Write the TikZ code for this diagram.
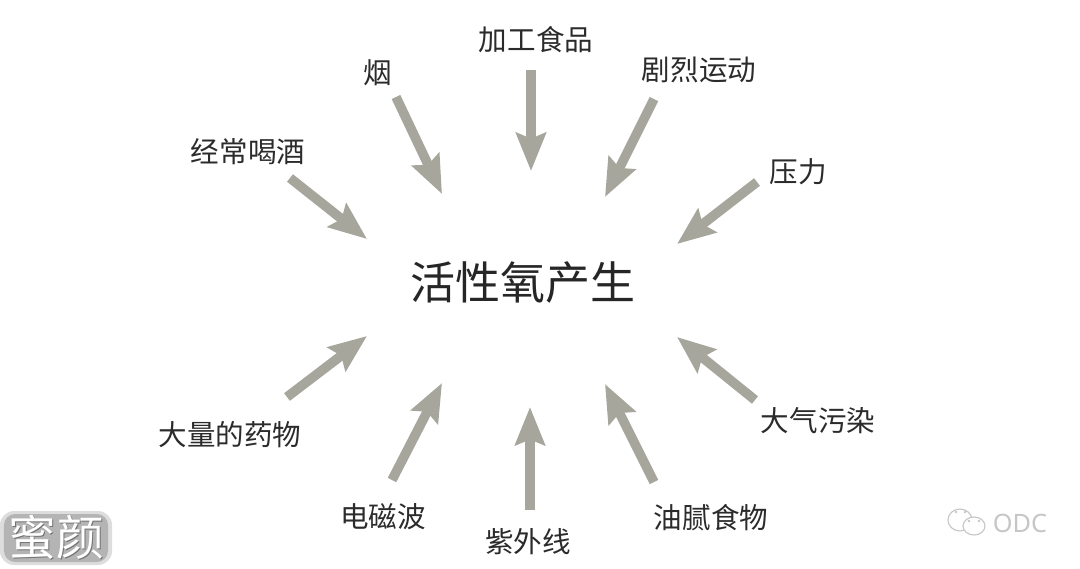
\documentclass[tikz,border=0pt]{standalone}
\usepackage{fontspec}
\setmainfont{Noto Sans CJK SC}
\newfontfamily\latinfont{Noto Sans}
\usetikzlibrary{arrows.meta}
\definecolor{jiantouhui}{HTML}{A6A69C}
\definecolor{zihei}{HTML}{2B2B2B}
\definecolor{shuiyinhui}{HTML}{B4B4B4}
\definecolor{odchui}{HTML}{C6C6C6}
\tikzstyle{yinsu} = [inner sep=0pt, text=zihei, font=\fontsize{20.3}{24}\selectfont]
\tikzstyle{zhongxin} = [inner sep=0pt, text=black!85, font=\fontsize{32}{38}\selectfont]
\tikzstyle{jiantou} = [-{Stealth[length=27pt,width=21pt,inset=4pt]}, line width=6.8pt,
    color=jiantouhui]
\tikzstyle{qipao} = [draw=odchui, line width=0.8pt]
\tikzstyle{yanjing} = [fill=odchui, draw=none]

\begin{document}
\begin{tikzpicture}[x=0.025cm,y=-0.025cm]
  \useasboundingbox (0,0) rectangle (1080,568);
  \node [zhongxin] (shengcheng) at (523,283) {活性氧产生};

  \node [yinsu] (jiagong) at (536,40) {加工食品};
  \node [yinsu] (yan) at (378,73) {烟};
  \node [yinsu] (hejiu) at (248,152) {经常喝酒};
  \node [yinsu] (yundong) at (699,70) {剧烈运动};
  \node [yinsu] (yali) at (798,172) {压力};
  \node [yinsu] (wuran) at (818,421) {大气污染};
  \node [yinsu] (youni) at (711,518) {油腻食物};
  \node [yinsu] (ziwai) at (528,542) {紫外线};
  \node [yinsu] (dianci) at (383,517) {电磁波};
  \node [yinsu] (yaowu) at (230,435) {大量的药物};

  \draw [jiantou] ([shift={(-5,30)}]jiagong.center) -- ([shift={(8,-112)}]shengcheng.center);
  \draw [jiantou] ([shift={(18,24)}]yan.center) -- ([shift={(-81,-89)}]shengcheng.center);
  \draw [jiantou] ([shift={(42,26)}]hejiu.center) -- ([shift={(-156,-44)}]shengcheng.center);
  \draw [jiantou] ([shift={(-45,29)}]yundong.center) -- ([shift={(82,-86)}]shengcheng.center);
  \draw [jiantou] ([shift={(-41,10)}]yali.center) -- ([shift={(154,-39)}]shengcheng.center);
  \draw [jiantou] ([shift={(-63,-21)}]wuran.center) -- ([shift={(154,54)}]shengcheng.center);
  \draw [jiantou] ([shift={(-57,-36)}]youni.center) -- ([shift={(82,101)}]shengcheng.center);
  \draw [jiantou] ([shift={(2,-32)}]ziwai.center) -- ([shift={(7,124)}]shengcheng.center);
  \draw [jiantou] ([shift={(9,-37)}]dianci.center) -- ([shift={(-81,100)}]shengcheng.center);
  \draw [jiantou] ([shift={(57,-38)}]yaowu.center) -- ([shift={(-156,53)}]shengcheng.center);

  % shuiyin
  \node [fill=shuiyinhui!45, rounded corners=10pt, minimum width=2.8cm, minimum height=1.35cm]
    (shuiyinwai) at (56,538) {};
  \node [fill=shuiyinhui, rounded corners=8pt, minimum width=2.6cm, minimum height=1.2cm]
    (shuiyinban) at (56,538) {};
  \node [text=black!55, font=\fontsize{34}{40}\selectfont] (shuiyinying) at (57.5,538.5) {蜜颜};
  \node [text=white, font=\fontsize{34}{40}\selectfont] (shuiyin) at (56,537) {蜜颜};

  \draw [qipao] (960,520) ellipse (12 and 11);
  \draw [qipao, fill=white] (974,526) ellipse (11 and 9);
  \fill [yanjing] (956,512) circle (1.3);
  \fill [yanjing] (965,512) circle (1.3);
  \fill [yanjing] (969,521) circle (1.3);
  \fill [yanjing] (979,521) circle (1.3);
  \node [text=odchui, font=\latinfont\fontsize{18}{22}\selectfont] (odc) at (1020,523) {ODC};
\end{tikzpicture}
\end{document}
